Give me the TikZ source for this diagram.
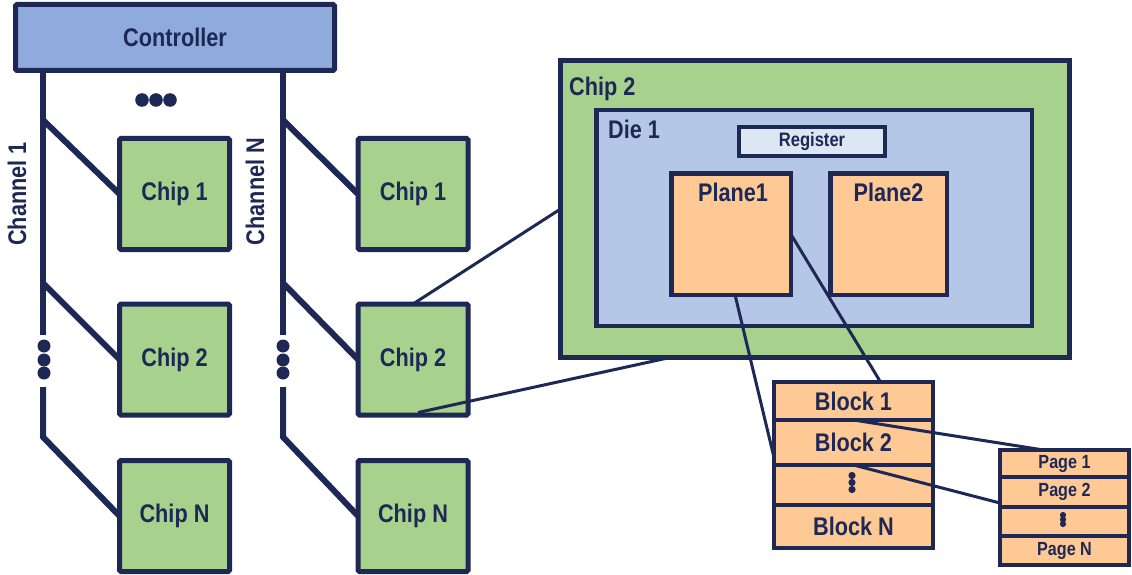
\documentclass[tikz,border=0pt]{standalone}
\usepackage{fontspec}
\setmainfont{Liberation Sans}[FakeStretch=0.85]
\usetikzlibrary{calc}
\definecolor{navy}{RGB}{29,41,84}
\definecolor{chipgreen}{HTML}{A9D18E}
\definecolor{ctrlblue}{HTML}{8FAADC}
\definecolor{dieblue}{HTML}{B4C7E7}
\definecolor{regblue}{HTML}{DDE7F4}
\definecolor{planeorange}{HTML}{FFC995}
\tikzset{
  box/.style={draw=navy, rectangle, inner sep=0pt, outer sep=0pt, text=navy,
    font=\bfseries\fontsize{25.5}{29}\selectfont},
  chipbox/.style={box, fill=chipgreen, line width=5pt, rounded corners=1.5pt,
    minimum width=110pt, minimum height=111pt},
  bus/.style={draw=navy, line width=6pt},
  conn/.style={draw=navy, line width=3pt},
  lbl/.style={text=navy, inner sep=0pt, font=\bfseries\fontsize{25.5}{29}\selectfont},
  rowbox/.style={box, fill=planeorange, line width=3.5pt, minimum width=159pt},
  pagebox/.style={box, fill=planeorange, line width=3.5pt, minimum width=129pt,
    font=\bfseries\fontsize{19}{22}\selectfont},
  dot/.style={fill=navy},
}
\begin{document}
\begin{tikzpicture}[x=1pt,y=-1pt]
\useasboundingbox (0,0) rectangle (1132,575);

% Controller
\node[box, fill=ctrlblue, line width=5pt, rounded corners=1.5pt,
  minimum width=319pt, minimum height=66pt] (ctrl) at (175,37.5) {Controller};

% coordinates on buses
\coordinate (a1) at (43,70);
\coordinate (a2) at (43,335);
\coordinate (a3) at (43,387);
\coordinate (a4) at (43,437);
\coordinate (ab1) at (43,120);
\coordinate (ab2) at (43,283);
\coordinate (n1) at (283,70);
\coordinate (n2) at (283,335);
\coordinate (n3) at (283,387);
\coordinate (n4) at (283,437);
\coordinate (nb1) at (283,120);
\coordinate (nb2) at (283,283);

% Chips
\node[chipbox] (c1L) at (174.5,194) {Chip 1};
\node[chipbox] (c2L) at (174.5,359.5) {Chip 2};
\node[chipbox] (cNL) at (174.5,516) {Chip N};
\node[chipbox] (c1R) at (413,194) {Chip 1};
\node[chipbox] (c2R) at (413,359.5) {Chip 2};
\node[chipbox] (cNR) at (413,516) {Chip N};

% Buses
\draw[bus] (a1) -- (a2);
\draw[bus] (a3) -- (a4) -- (cNL.west);
\draw[bus] (ab1) -- (c1L.west);
\draw[bus] (ab2) -- (c2L.west);
\draw[bus] (n1) -- (n2);
\draw[bus] (n3) -- (n4) -- (cNR.west);
\draw[bus] (nb1) -- (c1R.west);
\draw[bus] (nb2) -- (c2R.west);

% Dots
\foreach \x in {142,156,170} \fill[dot] (\x,100) circle (6.8);
\foreach \y in {346,360,373} {\fill[dot] (44,\y) circle (6.5); \fill[dot] (283,\y) circle (6.5);}

% Channel labels
\node[lbl, rotate=90] (ch1) at (17,194) {Channel 1};
\node[lbl, rotate=90] (chN) at (255,191.5) {Channel N};

% Big chip 2
\node[box, fill=chipgreen, line width=5pt, minimum width=509pt, minimum height=297pt] (big) at (815,209) {};
\node[lbl, anchor=base west] (bigl) at (569,96) {Chip 2};
\node[box, fill=dieblue, line width=4.5pt, minimum width=435.5pt, minimum height=215.5pt] (die) at (814,218) {};
\node[lbl, anchor=base west] (diel) at (608,139) {Die 1};
\node[box, fill=regblue, line width=4pt, minimum width=146pt, minimum height=29pt,
  font=\bfseries\fontsize{19.5}{22}\selectfont] (reg) at (812,141.5) {Register};
\node[box, fill=planeorange, line width=4.5pt, minimum width=119.5pt, minimum height=121.5pt] (p1) at (731,234) {};
\node[box, fill=planeorange, line width=4.5pt, minimum width=116.5pt, minimum height=121.5pt] (p2) at (888.5,234) {};
\node[lbl, anchor=base] (p1l) at (733,201) {Plane1};
\node[lbl, anchor=base] (p2l) at (888.5,201) {Plane2};

% Blocks
\node[rowbox, minimum height=38pt] (b1) at (853.5,401) {Block 1};
\node[rowbox, minimum height=45pt] (b2) at (853.5,442.5) {Block 2};
\node[rowbox, minimum height=40pt] (bd) at (853.5,485) {};
\node[rowbox, minimum height=43pt] (bN) at (853.5,526.5) {Block N};
\draw[navy, line width=4.5pt] (b1.north west) rectangle (bN.south east);
\foreach \y in {475.5,482.5,489.5} \fill[dot] (852,\y) circle (3.6);

% Pages
\node[pagebox, minimum height=27pt] (pg1) at (1064.5,463.5) {Page 1};
\node[pagebox, minimum height=30pt] (pg2) at (1064.5,492) {Page 2};
\node[pagebox, minimum height=29pt] (pgd) at (1064.5,521.5) {};
\node[pagebox, minimum height=29pt] (pgN) at (1064.5,550.5) {Page N};
\draw[navy, line width=4pt] (pg1.north west) rectangle (pgN.south east);
\foreach \y in {515,519.5,524} \fill[dot] (1063,\y) circle (3.1);

% Connectors
\coordinate (e2) at ($(c2R.south)+(5,-2.5)$);
\draw[conn] (c2R.north) -- (big.west);
\draw[conn] ($(big.south west)!0.215!(big.south east)$) -- (e2);
\draw[conn] ($(p1.south)+(4,0)$) -- ($(b2.west)+(0,15)$);
\draw[conn] (p1.east) -- ($(b1.north)+(27,0)$);
\draw[conn] (b1.south) -- ($(pg1.north)+(-21,0)$);
\draw[conn] (b2.south) -- ($(pg2.west)+(0,11)$);
\end{tikzpicture}
\end{document}
